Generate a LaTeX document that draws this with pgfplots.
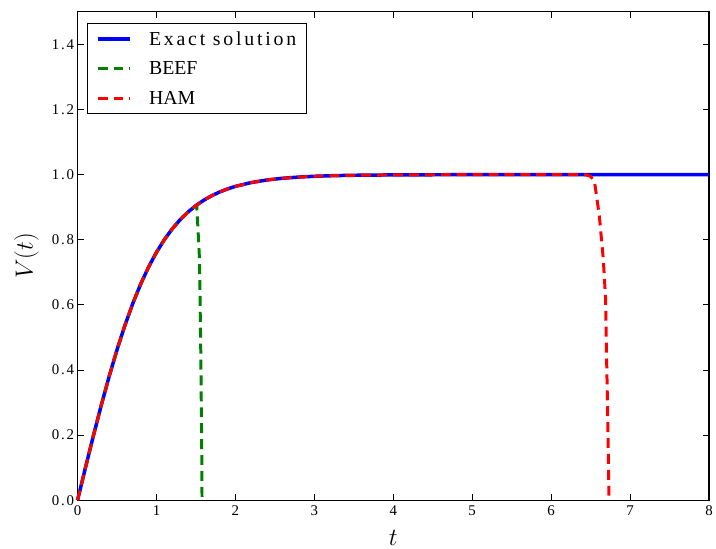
\documentclass[border=0pt]{standalone}
\usepackage{pgfplots}
\pgfplotsset{compat=1.18}
\usepackage{fontspec}
\setmainfont{Liberation Serif}
\newcommand{\spaced}[1]{{\addfontfeature{LetterSpace=14}#1}}

\definecolor{mplblue}{rgb}{0,0,1}
\definecolor{mplgreen}{rgb}{0,0.5,0}
\definecolor{mplred}{rgb}{1,0,0}

\begin{document}
\begin{tikzpicture}[x=1bp,y=1bp]
\begin{axis}[
  scale only axis,
  width=635bp, height=491bp,
  xmin=0, xmax=8, ymin=0, ymax=1.5,
  xtick={0,1,...,8},
  ytick={0,0.2,0.4,0.6,0.8,1.0,1.2,1.4},
  yticklabel style={/pgf/number format/.cd, fixed, fixed zerofill, precision=1},
  /pgf/number format/assume math mode=true,
  ticklabel style={font=\fontsize{15}{17}\selectfont\addfontfeature{LetterSpace=12}},
  xticklabel style={yshift=-2bp},
  tick align=inside,
  major tick length=6bp,
  minor tick num=0,
  axis line style={black, line width=1.1bp},
  every tick/.style={black, line width=0.9bp},
  xtick pos=both, ytick pos=both,
  xlabel={$t$}, ylabel={$V(t)$},
  label style={font=\fontsize{24}{26}\selectfont},
  xlabel style={at={(axis description cs:0.5,-0.077)}, anchor=center},
  ylabel style={at={(axis description cs:-0.081,0.5)}, anchor=center},
  legend style={at={(axis description cs:0.0157,0.977)}, anchor=north west,
    draw=black, line width=0.9bp, fill=white, rounded corners=0pt,
    font=\fontsize{20}{22}\selectfont, row sep=11bp,
    inner xsep=8bp, inner ysep=6bp,
    /tikz/every odd column/.append style={column sep=15bp}},
  legend cell align=left,
  legend image code/.code={\draw[#1] (0bp,0bp) -- (33bp,0bp);},
  clip=false,
]
\addplot[mplblue, line width=3.5bp] coordinates {
(0,0) (0.1,0.09967) (0.2,0.19738) (0.3,0.29131) (0.4,0.37995) (0.5,0.46212)
(0.6,0.53705) (0.7,0.60437) (0.8,0.66404) (0.9,0.71630) (1.0,0.76159)
(1.1,0.80050) (1.2,0.83365) (1.3,0.86172) (1.4,0.88535) (1.5,0.90515)
(1.6,0.92167) (1.7,0.93541) (1.8,0.94681) (1.9,0.95624) (2.0,0.96403)
(2.2,0.97574) (2.4,0.98367) (2.6,0.98903) (2.8,0.99263) (3.0,0.99505)
(3.25,0.99700) (3.5,0.99818) (4.0,0.99933) (4.5,0.99975) (5.0,0.99991)
(6.0,0.99999) (8.0,1.0)};
\addlegendentry{\spaced{Exact solution}}
\addplot[mplgreen, line width=3bp, dash pattern=on 10bp off 6bp] coordinates {
(0,0) (0.1,0.09967) (0.2,0.19738) (0.3,0.29131) (0.4,0.37995) (0.5,0.46212)
(0.6,0.53705) (0.7,0.60437) (0.8,0.66404) (0.9,0.71630) (1.0,0.76159)
(1.1,0.80050) (1.2,0.83365) (1.3,0.86172) (1.4,0.88535) (1.5,0.90515)
(1.51,0.905) (1.52,0.86) (1.545,0.74) (1.562,0.44) (1.574,0.13) (1.577,0)};
\addlegendentry{BEEF}
\addplot[mplred, line width=3bp, dash pattern=on 10bp off 6bp] coordinates {
(0,0) (0.1,0.09967) (0.2,0.19738) (0.3,0.29131) (0.4,0.37995) (0.5,0.46212)
(0.6,0.53705) (0.7,0.60437) (0.8,0.66404) (0.9,0.71630) (1.0,0.76159)
(1.1,0.80050) (1.2,0.83365) (1.3,0.86172) (1.4,0.88535) (1.5,0.90515)
(1.6,0.92167) (1.7,0.93541) (1.8,0.94681) (1.9,0.95624) (2.0,0.96403)
(2.2,0.97574) (2.4,0.98367) (2.6,0.98903) (2.8,0.99263) (3.0,0.99505)
(3.25,0.99700) (3.5,0.99818) (4.0,0.99933) (4.5,0.99975) (5.0,0.99991)
(6.0,0.99999) (6.4,1.0) (6.45,0.999) (6.5,0.995) (6.55,0.978) (6.61,0.875)
(6.66,0.743) (6.69,0.62) (6.70,0.47) (6.717,0.26) (6.734,0)};
\addlegendentry{HAM}
\path (rel axis cs:0,1) ++(-78bp,12bp) coordinate (bbtl);
\path (rel axis cs:1,0) ++(3bp,-49bp) coordinate (bbbr);
\end{axis}
\end{tikzpicture}
\end{document}
